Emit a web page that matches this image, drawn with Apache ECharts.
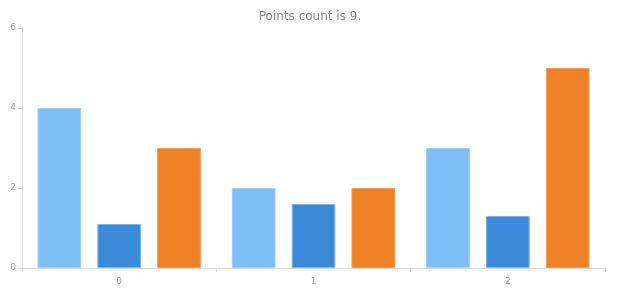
<!DOCTYPE html>
<html><head><meta charset="utf-8">
<script src="https://cdn.jsdelivr.net/npm/echarts@6/dist/echarts.min.js"></script>
<style>html,body{margin:0;padding:0;background:#fff}#c{width:620px;height:300px}</style>
</head><body><div id="c"></div>
<script>
var categories = ['0', '1', '2'];
var series1 = [4, 2, 3];
var series2 = [1.1, 1.6, 1.3];
var series3 = [3, 2, 5];
var yTicks = [0, 2, 4, 6];

var chart = echarts.init(document.getElementById('c'), null, {renderer: 'canvas'});
var labelStyle = {color: '#9a9ea3', fontSize: 9, fontFamily: 'DejaVu Sans'};
function bar(data, color, border) {
  return {type: 'bar', data: data, barGap: '37%', barCategoryGap: '16%',
    itemStyle: {color: color, borderColor: border, borderWidth: 1}};
}
chart.setOption({
  animation: false,
  title: {text: 'Points count is 9.', left: 'center', top: 6,
    textStyle: {color: '#7f8890', fontSize: 12, fontWeight: 'normal', fontFamily: 'DejaVu Sans'}},
  grid: {left: 22, right: 15, top: 28, bottom: 32},
  xAxis: {type: 'category', data: categories,
    axisLine: {lineStyle: {color: '#dcdcdc'}},
    axisTick: {show: true, length: 4, lineStyle: {color: '#dcdcdc'}},
    axisLabel: Object.assign({margin: 9}, labelStyle),
    splitLine: {show: false}},
  yAxis: {type: 'value', min: yTicks[0], max: yTicks[yTicks.length - 1], interval: 2,
    axisLine: {show: true, lineStyle: {color: '#dcdcdc'}},
    axisTick: {show: true, length: 4, lineStyle: {color: '#dcdcdc'}},
    axisLabel: Object.assign({margin: 6}, labelStyle),
    splitLine: {show: false}},
  series: [
    bar(series1, '#7dbff5', '#9ccff7'),
    bar(series2, '#3b8ad8', '#7fb6ea'),
    bar(series3, '#f08127', '#f49a50')
  ]
});
</script></body></html>
